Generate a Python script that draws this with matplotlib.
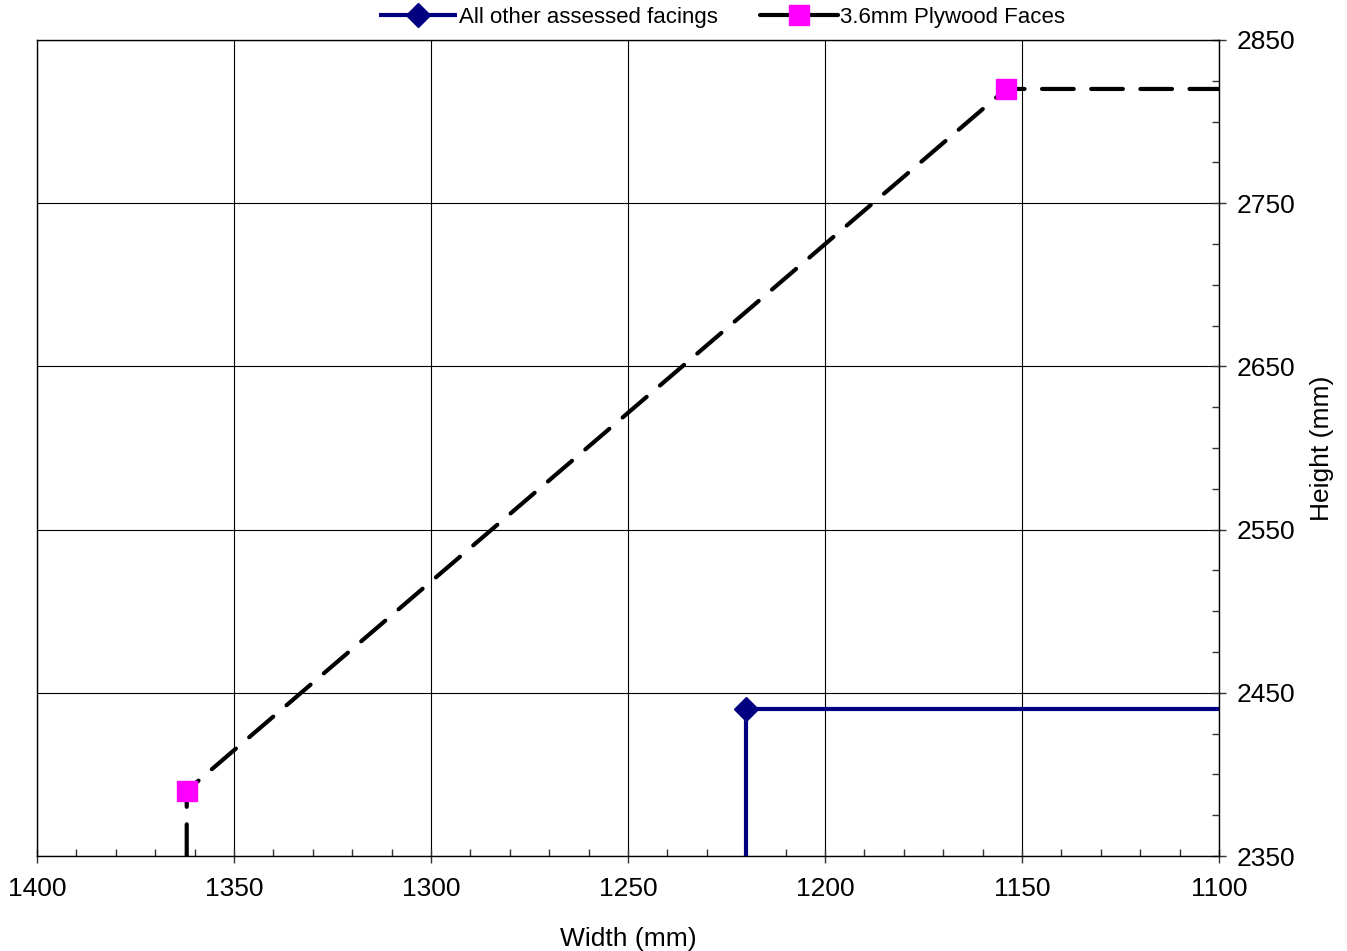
import numpy as np
import matplotlib.pyplot as plt
from matplotlib.ticker import MultipleLocator

plt.rcParams["font.family"] = ["Liberation Sans", "DejaVu Sans"]

# data
other_width = [1220, 1220, 1100]
other_height = [2350, 2440, 2440]
plywood_width = [1362, 1362, 1154, 1100]
plywood_height = [2350, 2390, 2820, 2820]

y_major = list(range(2350, 2851, 100))

W, H = 1347, 951
fig = plt.figure(figsize=(W / 100, H / 100), dpi=100)
ax = fig.add_axes([37 / W, 1 - 856 / H, (1219 - 37) / W, (856 - 40) / H])

ax.plot(other_width, other_height, color="#000080", lw=3, marker="D",
        markersize=12, markevery=[1], label="All other assessed facings",
        solid_capstyle="butt", zorder=3)
ax.plot(plywood_width, plywood_height, color="black", lw=3, dashes=(7.6, 4.2),
        dash_capstyle="round", marker="s", markersize=14, markevery=[1, 2],
        markerfacecolor="#ff00ff", markeredgecolor="#ff00ff",
        label="3.6mm Plywood Faces", zorder=4)

ax.set_xlim(1400, 1100)
ax.set_ylim(2350, 2850)
ax.xaxis.set_major_locator(MultipleLocator(50))
ax.xaxis.set_minor_locator(MultipleLocator(10))
ax.set_yticks(y_major)
ax.set_yticks(np.arange(2350, 2851, 25), minor=True)
ax.yaxis.tick_right()
ax.yaxis.set_label_position("right")
ax.tick_params(which="major", direction="inout", length=10, width=1, labelsize=19,
               color="#333333")
ax.tick_params(which="minor", direction="in", length=5, width=1, color="#333333")
ax.tick_params(axis="x", which="major", pad=10)
ax.tick_params(axis="y", which="major", pad=8)
ax.grid(True, which="major", color="black", lw=0.8)
for spine in ax.spines.values():
    spine.set_color("black")
    spine.set_linewidth(1)

ax.set_xlabel("Width (mm)", fontsize=19, labelpad=19)
ax.set_ylabel("Height (mm)", fontsize=19, labelpad=10)

fig.legend(loc="center", bbox_to_anchor=(722 / W, 1 - 17 / H), ncol=2,
           frameon=False, fontsize=16, handlelength=3.5, handletextpad=0.1,
           columnspacing=1.9)

fig.savefig("out.png", dpi=100)
